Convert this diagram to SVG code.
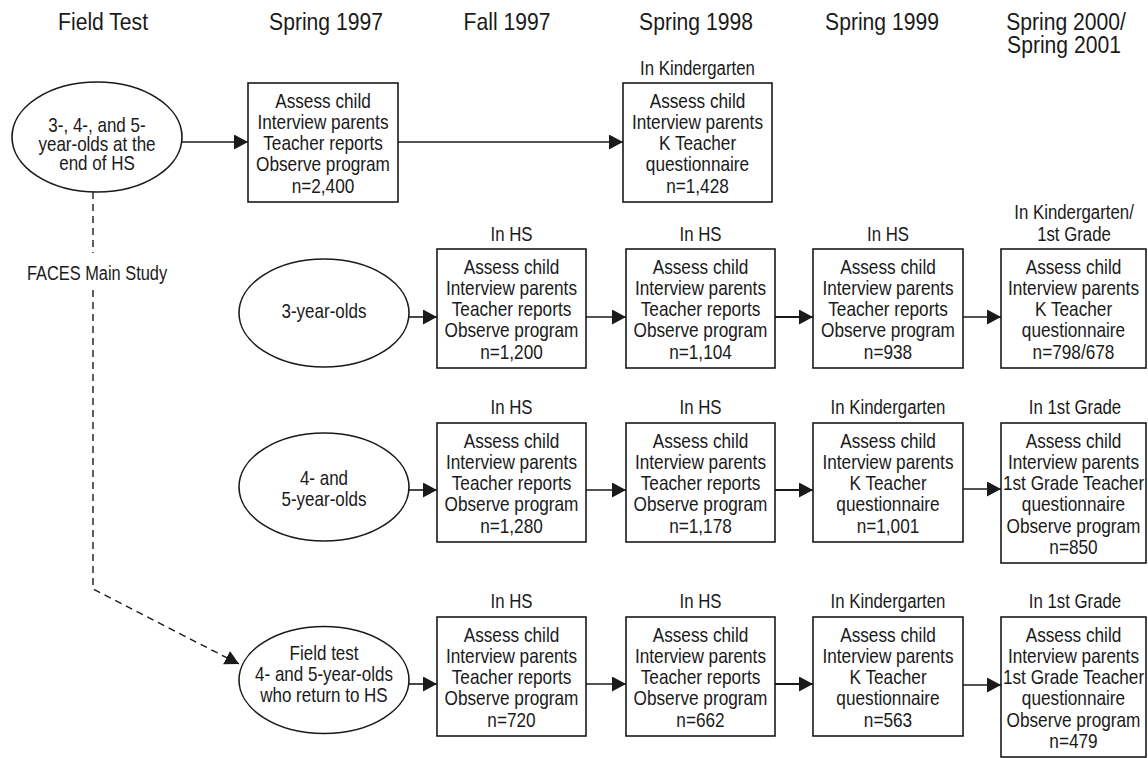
<svg xmlns="http://www.w3.org/2000/svg" width="1148" height="758" viewBox="0 0 1148 758">
<style>
text{font-family:"Liberation Sans",Arial,sans-serif;fill:#1a1a1a;text-anchor:middle;transform-box:fill-box;transform-origin:50% 50%}
.h{font-size:24px;transform:scaleX(0.88)}
.t{font-size:21px;transform:scaleX(0.82)}
.l{font-size:21px;transform:scaleX(0.80)}
.f{font-size:21px;transform:scaleX(0.78)}
.e{font-size:20px;transform:scaleX(0.85)}
.box{fill:#fff;stroke:#1a1a1a;stroke-width:1.6}
.ell{fill:#fff;stroke:#1a1a1a;stroke-width:1.6}
.c{fill:none;stroke:#1a1a1a;stroke-width:1.6}
.d{fill:none;stroke:#1a1a1a;stroke-width:1.4;stroke-dasharray:7 5}
</style>
<defs>
<marker id="ah" markerUnits="userSpaceOnUse" markerWidth="15" markerHeight="16" refX="14" refY="7.5" orient="auto" viewBox="0 0 15 16">
<path d="M0,0 L14,7.5 L0,15 z" fill="#1a1a1a"/>
</marker>
</defs>
<rect width="1148" height="758" fill="#fff"/>

<g id="headers">
<text class="h" x="103" y="30">Field Test</text>
<text class="h" x="326" y="30">Spring 1997</text>
<text class="h" x="507" y="30">Fall 1997</text>
<text class="h" x="696" y="30">Spring 1998</text>
<text class="h" x="882" y="30">Spring 1999</text>
<text class="h" x="1066" y="30">Spring 2000/</text>
<text class="h" x="1064" y="53">Spring 2001</text>
</g>

<g id="connectors">
<line class="c" x1="182" y1="142" x2="248" y2="142" marker-end="url(#ah)"/>
<line class="c" x1="398" y1="142" x2="623" y2="142" marker-end="url(#ah)"/>
<line class="c" x1="409" y1="317" x2="437" y2="317" marker-end="url(#ah)"/>
<line class="c" x1="586" y1="317" x2="626" y2="317" marker-end="url(#ah)"/>
<line class="c" x1="775" y1="317" x2="813" y2="317" marker-end="url(#ah)" style="stroke-width:2"/>
<line class="c" x1="963" y1="317" x2="1001" y2="317" marker-end="url(#ah)"/>
<line class="c" x1="409" y1="490" x2="437" y2="490" marker-end="url(#ah)"/>
<line class="c" x1="586" y1="490" x2="626" y2="490" marker-end="url(#ah)"/>
<line class="c" x1="775" y1="490" x2="813" y2="490" marker-end="url(#ah)" style="stroke-width:2"/>
<line class="c" x1="963" y1="489" x2="1001" y2="489" marker-end="url(#ah)"/>
<line class="c" x1="409" y1="684" x2="437" y2="684" marker-end="url(#ah)"/>
<line class="c" x1="586" y1="684" x2="626" y2="684" marker-end="url(#ah)"/>
<line class="c" x1="775" y1="684" x2="813" y2="684" marker-end="url(#ah)" style="stroke-width:2"/>
<line class="c" x1="963" y1="685" x2="1001" y2="685" marker-end="url(#ah)"/>
<line class="d" x1="93" y1="192" x2="93" y2="253"/>
<polyline class="d" points="93,290 93,589 239,664" marker-end="url(#ah)"/>
</g>

<g id="faces-label">
<text class="f" x="97" y="280">FACES Main Study</text>
</g>

<g id="n-fieldtest">
<ellipse class="ell" cx="97" cy="137" rx="85" ry="55"/>
<text class="e" x="97" y="132">3-, 4-, and 5-</text>
<text class="e" x="97" y="151">year-olds at the</text>
<text class="e" x="97" y="170">end of HS</text>
</g>

<g id="n-r1c1">
<rect class="box" x="248" y="83" width="150" height="119"/>
<text class="t" x="323" y="108">Assess child</text>
<text class="t" x="323" y="129">Interview parents</text>
<text class="t" x="323" y="150.5">Teacher reports</text>
<text class="t" x="323" y="171.5">Observe program</text>
<text class="t" x="323" y="193">n=2,400</text>
</g>

<g id="n-r1c3">
<text class="l" x="697.5" y="75">In Kindergarten</text>
<rect class="box" x="623" y="83" width="149" height="119"/>
<text class="t" x="697.5" y="108">Assess child</text>
<text class="t" x="697.5" y="129">Interview parents</text>
<text class="t" x="697.5" y="150.5">K Teacher</text>
<text class="t" x="697.5" y="171.5">questionnaire</text>
<text class="t" x="697.5" y="193">n=1,428</text>
</g>

<g id="n-3yo">
<ellipse class="ell" cx="324" cy="313" rx="85" ry="54"/>
<text class="e" x="324" y="318">3-year-olds</text>
</g>

<g id="n-r2c2">
<text class="l" x="511.5" y="241">In HS</text>
<rect class="box" x="437" y="249" width="149" height="119"/>
<text class="t" x="511.5" y="274">Assess child</text>
<text class="t" x="511.5" y="295">Interview parents</text>
<text class="t" x="511.5" y="316.5">Teacher reports</text>
<text class="t" x="511.5" y="337.5">Observe program</text>
<text class="t" x="511.5" y="359">n=1,200</text>
</g>

<g id="n-r2c3">
<text class="l" x="700.5" y="241">In HS</text>
<rect class="box" x="626" y="249" width="149" height="119"/>
<text class="t" x="700.5" y="274">Assess child</text>
<text class="t" x="700.5" y="295">Interview parents</text>
<text class="t" x="700.5" y="316.5">Teacher reports</text>
<text class="t" x="700.5" y="337.5">Observe program</text>
<text class="t" x="700.5" y="359">n=1,104</text>
</g>

<g id="n-r2c4">
<text class="l" x="888" y="241">In HS</text>
<rect class="box" x="813" y="249" width="150" height="119"/>
<text class="t" x="888" y="274">Assess child</text>
<text class="t" x="888" y="295">Interview parents</text>
<text class="t" x="888" y="316.5">Teacher reports</text>
<text class="t" x="888" y="337.5">Observe program</text>
<text class="t" x="888" y="359">n=938</text>
</g>

<g id="n-r2c5">
<text class="l" x="1074" y="219">In Kindergarten/</text>
<text class="l" x="1074" y="241">1st Grade</text>
<rect class="box" x="1001" y="249" width="145" height="119"/>
<text class="t" x="1073.5" y="274">Assess child</text>
<text class="t" x="1073.5" y="295">Interview parents</text>
<text class="t" x="1073.5" y="316.5">K Teacher</text>
<text class="t" x="1073.5" y="337.5">questionnaire</text>
<text class="t" x="1073.5" y="359">n=798/678</text>
</g>

<g id="n-45yo">
<ellipse class="ell" cx="324" cy="487" rx="85" ry="54"/>
<text class="e" x="324" y="485">4- and</text>
<text class="e" x="324" y="506">5-year-olds</text>
</g>

<g id="n-r3c2">
<text class="l" x="511.5" y="414">In HS</text>
<rect class="box" x="437" y="423" width="149" height="119"/>
<text class="t" x="511.5" y="448">Assess child</text>
<text class="t" x="511.5" y="469">Interview parents</text>
<text class="t" x="511.5" y="490.5">Teacher reports</text>
<text class="t" x="511.5" y="511.5">Observe program</text>
<text class="t" x="511.5" y="533">n=1,280</text>
</g>

<g id="n-r3c3">
<text class="l" x="700.5" y="414">In HS</text>
<rect class="box" x="626" y="423" width="149" height="119"/>
<text class="t" x="700.5" y="448">Assess child</text>
<text class="t" x="700.5" y="469">Interview parents</text>
<text class="t" x="700.5" y="490.5">Teacher reports</text>
<text class="t" x="700.5" y="511.5">Observe program</text>
<text class="t" x="700.5" y="533">n=1,178</text>
</g>

<g id="n-r3c4">
<text class="l" x="888" y="414">In Kindergarten</text>
<rect class="box" x="813" y="423" width="150" height="119"/>
<text class="t" x="888" y="448">Assess child</text>
<text class="t" x="888" y="469">Interview parents</text>
<text class="t" x="888" y="490.5">K Teacher</text>
<text class="t" x="888" y="511.5">questionnaire</text>
<text class="t" x="888" y="533">n=1,001</text>
</g>

<g id="n-r3c5">
<text class="l" x="1075" y="414">In 1st Grade</text>
<rect class="box" x="1001" y="423" width="145" height="140"/>
<text class="t" x="1073.5" y="448">Assess child</text>
<text class="t" x="1073.5" y="469">Interview parents</text>
<text class="t" x="1073.5" y="490.5">1st Grade Teacher</text>
<text class="t" x="1073.5" y="511.5">questionnaire</text>
<text class="t" x="1073.5" y="533">Observe program</text>
<text class="t" x="1073.5" y="554">n=850</text>
</g>

<g id="n-ft45">
<ellipse class="ell" cx="324" cy="680" rx="85" ry="53.5"/>
<text class="e" x="324" y="660">Field test</text>
<text class="e" x="324" y="681">4- and 5-year-olds</text>
<text class="e" x="324" y="702">who return to HS</text>
</g>

<g id="n-r4c2">
<text class="l" x="511.5" y="608">In HS</text>
<rect class="box" x="437" y="617" width="149" height="119"/>
<text class="t" x="511.5" y="642">Assess child</text>
<text class="t" x="511.5" y="663">Interview parents</text>
<text class="t" x="511.5" y="684.5">Teacher reports</text>
<text class="t" x="511.5" y="705.5">Observe program</text>
<text class="t" x="511.5" y="727">n=720</text>
</g>

<g id="n-r4c3">
<text class="l" x="700.5" y="608">In HS</text>
<rect class="box" x="626" y="617" width="149" height="119"/>
<text class="t" x="700.5" y="642">Assess child</text>
<text class="t" x="700.5" y="663">Interview parents</text>
<text class="t" x="700.5" y="684.5">Teacher reports</text>
<text class="t" x="700.5" y="705.5">Observe program</text>
<text class="t" x="700.5" y="727">n=662</text>
</g>

<g id="n-r4c4">
<text class="l" x="888" y="608">In Kindergarten</text>
<rect class="box" x="813" y="617" width="150" height="119"/>
<text class="t" x="888" y="642">Assess child</text>
<text class="t" x="888" y="663">Interview parents</text>
<text class="t" x="888" y="684.5">K Teacher</text>
<text class="t" x="888" y="705.5">questionnaire</text>
<text class="t" x="888" y="727">n=563</text>
</g>

<g id="n-r4c5">
<text class="l" x="1075" y="608">In 1st Grade</text>
<rect class="box" x="1001" y="617" width="145" height="140"/>
<text class="t" x="1073.5" y="642">Assess child</text>
<text class="t" x="1073.5" y="663">Interview parents</text>
<text class="t" x="1073.5" y="684.5">1st Grade Teacher</text>
<text class="t" x="1073.5" y="705.5">questionnaire</text>
<text class="t" x="1073.5" y="727">Observe program</text>
<text class="t" x="1073.5" y="748">n=479</text>
</g>
</svg>
